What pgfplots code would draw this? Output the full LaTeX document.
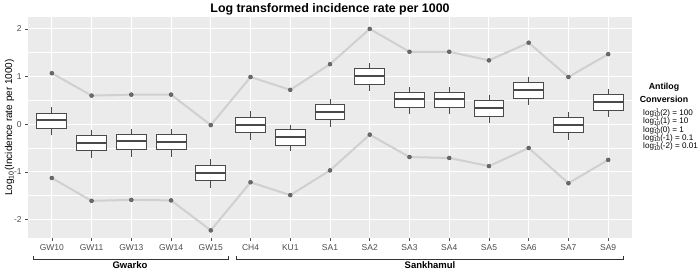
\documentclass[border=0pt]{standalone}
\usepackage{pgfplots}
\pgfplotsset{compat=1.18}
\usepgfplotslibrary{statistics}
\usepackage{fontspec}
\setmainfont{Liberation Sans}
\definecolor{ggbg}{HTML}{EBEBEB}
\definecolor{ggtick}{HTML}{4D4D4D}
\definecolor{ggbox}{HTML}{4A4A4A}
\definecolor{ggline}{HTML}{D0D0D0}
\definecolor{ggpt}{HTML}{6A6A6A}
\newcommand{\ilog}{log\rlap{\raisebox{2.8pt}{\fontsize{5.6}{5.6}\selectfont -1}}\raisebox{-1.3pt}{\fontsize{5.6}{5.6}\selectfont 10}}
\newcommand{\legfont}{\fontsize{8.1}{8.4}\selectfont\setlength{\lineskiplimit}{-10pt}}
\newcommand{\bp}[6]{\addplot[ggbox, line width=0.9pt, fill=white, solid,
  boxplot prepared={draw position=#1, lower whisker=#2, lower quartile=#3, median=#4,
  upper quartile=#5, upper whisker=#6, box extend=0.75, whisker extend=0,
  draw direction=y,
  every median/.style={line width=1.9pt}}] coordinates {};}
\begin{document}
\begin{tikzpicture}
\path[use as bounding box] (0,0) rectangle (700pt,270pt);
\begin{axis}[
  at={(28pt,32pt)}, anchor=south west,
  scale only axis, width=604pt, height=221pt,
  xmin=-0.6, xmax=14.6, ymin=-2.39, ymax=2.25,
  axis background/.style={fill=ggbg},
  axis line style={draw=none},
  xtick={0,...,14},
  xticklabels={GW10,GW11,GW13,GW14,GW15,CH4,KU1,SA1,SA2,SA3,SA4,SA5,SA6,SA7,SA9},
  ytick={-2,-1,0,1,2},
  yticklabels={-2,-1,0,1,2},
  minor ytick={-1.5,-0.5,0.5,1.5},
  xmajorgrids, ymajorgrids, yminorgrids,
  major grid style={white, line width=1pt},
  minor grid style={white, line width=0.5pt},
  tick align=outside, major tick length=2.75pt, minor tick length=0pt,
  tick style={color=ggtick, line width=0.5pt},
  xtick pos=bottom, ytick pos=left,
  ticklabel style={font=\fontsize{8.5}{10}\selectfont, text=ggtick},
  clip=false,
]
\addplot[ggline, line width=2pt] coordinates {(0,1.07)(1,0.60)(2,0.62)(3,0.62)(4,-0.02)(5,0.99)(6,0.72)(7,1.26)(8,2.00)(9,1.52)(10,1.52)(11,1.34)(12,1.71)(13,0.99)(14,1.47)};
\addplot[ggline, line width=2pt] coordinates {(0,-1.13)(1,-1.61)(2,-1.59)(3,-1.60)(4,-2.23)(5,-1.22)(6,-1.49)(7,-0.97)(8,-0.22)(9,-0.69)(10,-0.71)(11,-0.88)(12,-0.50)(13,-1.24)(14,-0.75)};
\addplot[only marks, mark=*, mark size=2pt, mark options={fill=ggpt, draw=ggpt!80!black}] coordinates {(0,1.07)(1,0.60)(2,0.62)(3,0.62)(4,-0.02)(5,0.99)(6,0.72)(7,1.26)(8,2.00)(9,1.52)(10,1.52)(11,1.34)(12,1.71)(13,0.99)(14,1.47)};
\addplot[only marks, mark=*, mark size=2pt, mark options={fill=ggpt, draw=ggpt!80!black}] coordinates {(0,-1.13)(1,-1.61)(2,-1.59)(3,-1.60)(4,-2.23)(5,-1.22)(6,-1.49)(7,-0.97)(8,-0.22)(9,-0.69)(10,-0.71)(11,-0.88)(12,-0.50)(13,-1.24)(14,-0.75)};
\bp{0}{-0.23}{-0.08}{0.08}{0.23}{0.36}
\bp{1}{-0.71}{-0.56}{-0.39}{-0.24}{-0.13}
\bp{2}{-0.69}{-0.54}{-0.36}{-0.22}{-0.10}
\bp{3}{-0.69}{-0.54}{-0.37}{-0.22}{-0.10}
\bp{4}{-1.33}{-1.19}{-1.02}{-0.86}{-0.74}
\bp{5}{-0.33}{-0.17}{-0.01}{0.14}{0.27}
\bp{6}{-0.57}{-0.44}{-0.27}{-0.12}{-0.01}
\bp{7}{-0.06}{0.09}{0.26}{0.41}{0.53}
\bp{8}{0.69}{0.84}{1.02}{1.17}{1.28}
\bp{9}{0.21}{0.36}{0.52}{0.67}{0.79}
\bp{10}{0.21}{0.35}{0.52}{0.67}{0.79}
\bp{11}{0.03}{0.17}{0.34}{0.49}{0.61}
\bp{12}{0.41}{0.55}{0.72}{0.87}{0.99}
\bp{13}{-0.33}{-0.17}{-0.01}{0.14}{0.26}
\bp{14}{0.15}{0.29}{0.46}{0.62}{0.73}
\end{axis}
% title
\node[anchor=base, font=\bfseries\fontsize{12.4}{14}\selectfont] at (330pt,257.5pt) {Log transformed incidence rate per 1000};
% y label
\node[anchor=base, rotate=90, font=\fontsize{10}{12}\selectfont] at (12.2pt,142.5pt) {Log\textsubscript{10}(Incidence rate per 1000)};
% group brackets
\draw[line width=0.6pt, color=black!80] (33pt,14.5pt) -- (33pt,10.5pt) -- (228pt,10.5pt) -- (228pt,14.5pt);
\draw[line width=0.6pt, color=black!80] (236.7pt,14.5pt) -- (236.7pt,10.5pt) -- (623pt,10.5pt) -- (623pt,14.5pt);
\node[anchor=base, inner sep=1pt, font=\bfseries\fontsize{9.5}{11}\selectfont] at (130pt,1.3pt) {Gwarko};
\node[anchor=base, inner sep=1pt, font=\bfseries\fontsize{9.5}{11}\selectfont] at (430pt,1.3pt) {Sankhamul};
% antilog conversion
\node[anchor=center, inner sep=1pt, font=\bfseries\fontsize{8.8}{9}\selectfont] at (664pt,182.5pt) {Antilog};
\node[anchor=center, inner sep=1pt, font=\bfseries\fontsize{8.8}{9}\selectfont] at (664pt,170.5pt) {Conversion};
\node[anchor=north west, inner sep=0pt, align=left, font=\legfont] at (643pt,161.5pt)
  {\ilog(2) = 100\\ \ilog(1) = 10\\ \ilog(0) = 1\\ \ilog(-1) = 0.1\\ \ilog(-2) = 0.01};
\end{tikzpicture}
\end{document}
